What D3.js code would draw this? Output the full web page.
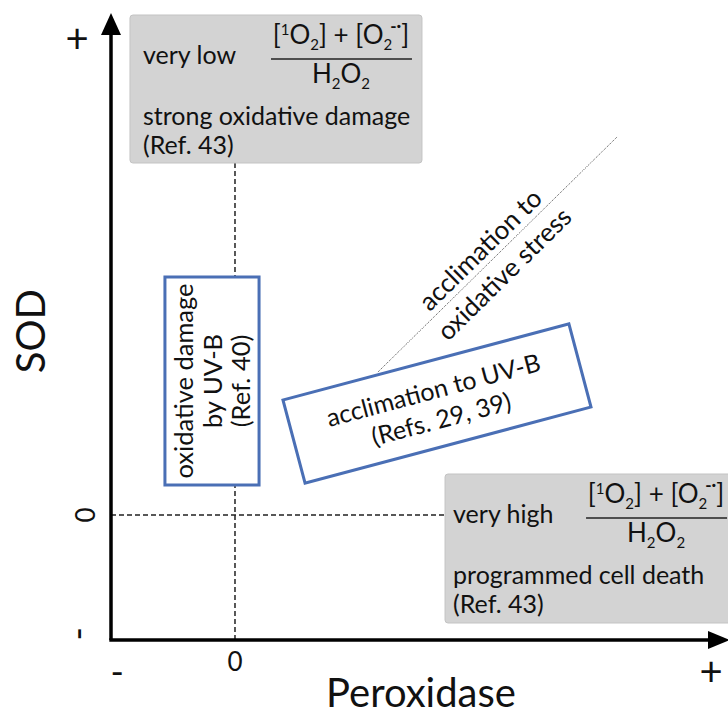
<!DOCTYPE html>
<html><head><meta charset="utf-8">
<script src="https://cdn.jsdelivr.net/npm/d3@7"></script>
<style>
body{margin:0;background:#fff}
svg{display:block}
text{font-family:Lato,"Open Sans",sans-serif;fill:#111}
</style>
</head><body>
<svg id="chart" width="728" height="715"></svg>
<script>
// ---- conceptual axis space (units) ----
const xDomain = [-1, 3.976];
const yDomain = [-1, 4.016];
const axisTitles = ["Peroxidase", "SOD"];
const xTickLabels = ["-", "0", "+"];
const xTickValues = [-0.95, 0, 3.84];
const yTickLabels = ["-", "0", "+"];
const yTickValues = [-0.95, 0, 3.82];

// gray regions: ratio ([1O2]+[O2-])/H2O2 level and outcome
const grayLevels   = ["very low", "very high"];
const grayOutcomes = ["strong oxidative damage", "programmed cell death"];
const grayRefs     = ["(Ref. 43)", "(Ref. 43)"];
const grayX = [[-0.847, 1.508], [1.694, 4.2]];
const grayY = [[2.816, 4.0], [-0.864, 0.328]];

// blue region (upright)
const blueLines = ["oxidative damage", "by UV-B", "(Ref. 40)"];
const blueX = [-0.565, 0.194];
const blueY = [0.24, 1.904];

// blue region (tilted) – long axis from left-mid to right-mid
const tiltLines = ["acclimation to UV-B", "(Refs. 29, 39)"];
const tiltAxis = [[0.476, 0.588], [2.782, 1.196]];

// diagonal trend
const diagLines = ["acclimation to", "oxidative stress"];
const diagStart = [1.153, 1.144];
const diagEnd   = [3.081, 3.024];
const diagLabelAt = [2.065, 2.036];

const svg = d3.select("#chart");
const x = d3.scaleLinear().domain(xDomain).range([111, 728]);
const y = d3.scaleLinear().domain(yDomain).range([640, 13]);

const BLUE = "#4a6fb5";
const FS = 25;

// dashed zero lines
svg.append("line").attr("x1", x(0)).attr("x2", x(0)).attr("y1", y(grayY[0][0])).attr("y2", y(-1))
  .attr("stroke", "#222").attr("stroke-width", 1.5).attr("stroke-dasharray", "5,3");
svg.append("line").attr("x1", x(-1)).attr("x2", x(grayX[1][0])).attr("y1", y(0)).attr("y2", y(0))
  .attr("stroke", "#222").attr("stroke-width", 1.5).attr("stroke-dasharray", "5,3");

// diagonal dotted
svg.append("line").attr("x1", x(diagStart[0])).attr("y1", y(diagStart[1]))
  .attr("x2", x(diagEnd[0])).attr("y2", y(diagEnd[1]))
  .attr("stroke", "#444").attr("stroke-width", 1).attr("stroke-dasharray", "1,1.2");

// diagonal labels
{
  const ang = Math.atan2(y(diagEnd[1]) - y(diagStart[1]), x(diagEnd[0]) - x(diagStart[0])) * 180 / Math.PI;
  const g = svg.append("g").attr("transform", `translate(${x(diagLabelAt[0])},${y(diagLabelAt[1])}) rotate(${ang})`);
  const offs = [-6, 28];
  diagLines.forEach((t, i) => {
    g.append("text").attr("x", 0).attr("y", offs[i]).attr("text-anchor", "middle")
      .attr("font-size", 26).text(t);
  });
}

// fraction drawer
function fraction(g, cx, yNum, yLine, yDen) {
  const fs = 26, ss = 15;
  const num = g.append("text").attr("x", cx).attr("y", yNum).attr("text-anchor", "middle").attr("font-size", fs);
  num.append("tspan").text("[");
  num.append("tspan").attr("font-size", ss).attr("dy", -9).text("1");
  num.append("tspan").attr("dy", 9).text("O");
  num.append("tspan").attr("font-size", ss).attr("dy", 6).text("2");
  num.append("tspan").attr("dy", -6).text("] + [O");
  num.append("tspan").attr("font-size", ss).attr("dy", 6).text("2");
  num.append("tspan").attr("font-size", 17).attr("font-weight", "bold").attr("dx", -2).attr("dy", -18).text("-·");
  num.append("tspan").attr("dy", 12).text("]");
  g.append("line").attr("x1", cx - 70).attr("x2", cx + 71).attr("y1", yLine).attr("y2", yLine)
    .attr("stroke", "#222").attr("stroke-width", 1.5);
  const den = g.append("text").attr("x", cx).attr("y", yDen).attr("text-anchor", "middle").attr("font-size", fs);
  den.append("tspan").text("H");
  den.append("tspan").attr("font-size", ss).attr("dy", 6).text("2");
  den.append("tspan").attr("dy", -6).text("O");
  den.append("tspan").attr("font-size", ss).attr("dy", 6).text("2");
}

// gray boxes
grayLevels.forEach((lvl, i) => {
  const x0 = x(grayX[i][0]), x1 = x(grayX[i][1]);
  const top = y(grayY[i][1]), bot = y(grayY[i][0]);
  const g = svg.append("g");
  g.append("rect").attr("x", x0).attr("y", top).attr("width", x1 - x0).attr("height", bot - top)
    .attr("rx", 3).attr("fill", "#d3d3d3").attr("stroke", "#c3c3c3").attr("stroke-width", 1);
  const lx = x0 + (i === 0 ? 13 : 8);
  g.append("text").attr("x", lx).attr("y", top + 49).attr("font-size", FS).text(lvl);
  fraction(g, x0 + 211, top + 29, top + 44, top + 68);
  g.append("text").attr("x", lx).attr("y", top + 110).attr("font-size", FS).text(grayOutcomes[i]);
  g.append("text").attr("x", lx).attr("y", top + 139).attr("font-size", FS).text(grayRefs[i]);
});

// upright blue box
{
  const x0 = x(blueX[0]), x1 = x(blueX[1]), top = y(blueY[1]), bot = y(blueY[0]);
  svg.append("rect").attr("x", x0).attr("y", top).attr("width", x1 - x0).attr("height", bot - top)
    .attr("fill", "#fff").attr("stroke", BLUE).attr("stroke-width", 3);
  const cx = (x0 + x1) / 2, cy = (top + bot) / 2;
  const g = svg.append("g").attr("transform", `translate(${cx},${cy}) rotate(-90)`);
  const offs = [-19, 10, 38];
  blueLines.forEach((t, i) => {
    g.append("text").attr("x", 0).attr("y", offs[i]).attr("text-anchor", "middle").attr("font-size", FS + 0.5).text(t);
  });
}

// tilted blue box
{
  const px0 = x(tiltAxis[0][0]), py0 = y(tiltAxis[0][1]);
  const px1 = x(tiltAxis[1][0]), py1 = y(tiltAxis[1][1]);
  const len = Math.hypot(px1 - px0, py1 - py0);
  const ang = Math.atan2(py1 - py0, px1 - px0) * 180 / Math.PI;
  const h = 86;
  const g = svg.append("g").attr("transform", `translate(${(px0 + px1) / 2},${(py0 + py1) / 2}) rotate(${ang})`);
  g.append("rect").attr("x", -len / 2).attr("y", -h / 2).attr("width", len).attr("height", h)
    .attr("fill", "#fff").attr("stroke", BLUE).attr("stroke-width", 3);
  const offs = [-5, 25];
  tiltLines.forEach((t, i) => {
    g.append("text").attr("x", 0).attr("y", offs[i]).attr("text-anchor", "middle").attr("font-size", FS).text(t);
  });
}

// axes
svg.append("line").attr("x1", x(-1)).attr("x2", x(-1)).attr("y1", y(-1)).attr("y2", y(4.016) + 18)
  .attr("stroke", "#000").attr("stroke-width", 3.5);
svg.append("line").attr("x1", x(-1) - 1.7).attr("x2", x(3.976) - 14).attr("y1", y(-1)).attr("y2", y(-1))
  .attr("stroke", "#000").attr("stroke-width", 3.5);
// arrowheads
{
  const ax = x(-1), ty = y(4.016);
  svg.append("path").attr("d", `M${ax},${ty} L${ax - 10},${ty + 22} L${ax + 10},${ty + 22} Z`).attr("fill", "#000");
  const tx = x(3.976) + 2, ay = y(-1);
  svg.append("path").attr("d", `M${tx},${ay} L${tx - 22},${ay - 9} L${tx - 22},${ay + 9} Z`).attr("fill", "#000");
}

// tick labels
xTickLabels.forEach((t, i) => {
  const fs = t === "0" ? 26 : (t === "+" ? 40 : 36);
  svg.append("text").attr("x", x(xTickValues[i])).attr("y", t === "0" ? 661 : 671)
    .attr("text-anchor", "middle").attr("dominant-baseline", "central").attr("font-size", fs).text(t);
});
yTickLabels.forEach((t, i) => {
  const fs = t === "0" ? 26 : (t === "+" ? 40 : 36);
  const px = t === "0" ? 85 : 77;
  const g = svg.append("g").attr("transform", `translate(${px},${y(yTickValues[i])})`);
  g.append("text").attr("transform", t === "+" ? null : "rotate(-90)")
    .attr("text-anchor", "middle").attr("dominant-baseline", "central").attr("font-size", fs).text(t);
});

// axis titles
svg.append("text").attr("x", 421).attr("y", 707).attr("text-anchor", "middle").attr("font-size", 40).text(axisTitles[0]);
svg.append("text").attr("transform", `translate(45,${y(1.47)}) rotate(-90)`).attr("text-anchor", "middle")
  .attr("font-size", 40).text(axisTitles[1]);
</script>
</body></html>
